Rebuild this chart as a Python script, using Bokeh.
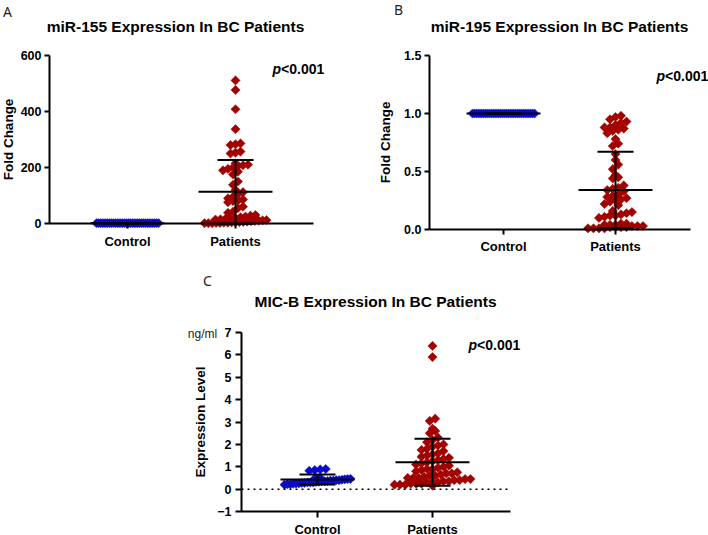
import numpy as np
from bokeh.plotting import figure
from bokeh.layouts import column, row, Spacer
from bokeh.models import FixedTicker, NumeralTickFormatter, Label, Range1d
from bokeh.embed import file_html
from bokeh.resources import INLINE

# ---------------- data ----------------
categories = ["Control", "Patients"]
titles = ["miR-155 Expression In BC Patients",
          "miR-195 Expression In BC Patients",
          "MIC-B Expression In BC Patients"]
panel_letters = ["A", "B", "C"]
y_titles = ["Fold Change", "Fold Change", "Expression Level"]
p_value_text = "<0.001"
unit_text = "ng/ml"

mir155_ticks = [0, 200, 400, 600]
mir195_ticks = [0.0, 0.5, 1.0, 1.5]
micb_ticks = [-1, 0, 1, 2, 3, 4, 5, 6, 7]

mir155_control = [1.0, 1.0, 1.0, 1.0, 1.0, 1.0, 1.0, 1.0, 1.0, 1.0,
                  1.0, 1.0, 1.0, 1.0, 1.0, 1.0, 1.0, 1.0, 1.0, 1.0,
                  1.0, 1.0, 1.0, 1.0, 1.0, 1.0, 1.0, 1.0, 1.0, 1.0]
mir155_patients = [511, 477, 408, 337, 286, 283, 280, 257, 253, 250,
                   215, 210, 208, 205, 200, 195, 190, 185, 175, 150,
                   138, 120, 112, 105, 95, 90, 86, 82, 80, 76,
                   60, 55, 42, 38, 30, 28, 25, 22, 20, 18,
                   17, 15, 14, 12, 11, 10, 9, 8, 7, 6,
                   5, 5, 4, 3, 3, 2, 2, 1, 1, 1]
mir155_mean = [1.0, 113.0]
mir155_sd = [0.0, 114.0]

mir195_control = [1.0, 1.0, 1.0, 1.0, 1.0, 1.0, 1.0, 1.0, 1.0, 1.0,
                  1.0, 1.0, 1.0, 1.0, 1.0, 1.0, 1.0, 1.0, 1.0, 1.0,
                  1.0, 1.0, 1.0, 1.0, 1.0, 1.0, 1.0, 1.0, 1.0, 1.0]
mir195_patients = [0.98, 0.97, 0.95, 0.93, 0.92, 0.90, 0.88, 0.88, 0.87, 0.86,
                   0.85, 0.83, 0.78, 0.74, 0.72, 0.65, 0.60, 0.56, 0.52, 0.47,
                   0.45, 0.44, 0.38, 0.36, 0.35, 0.34, 0.33, 0.30, 0.29, 0.28,
                   0.27, 0.26, 0.25, 0.24, 0.22, 0.21, 0.16, 0.15, 0.14, 0.13,
                   0.12, 0.12, 0.11, 0.10, 0.05, 0.05, 0.04, 0.04, 0.04, 0.03,
                   0.03, 0.03, 0.02, 0.02, 0.02, 0.02, 0.01, 0.01, 0.01, 0.01]
mir195_mean = [1.0, 0.34]
mir195_sd = [0.0, 0.33]

micb_control = [0.90, 0.88, 0.85, 0.82, 0.50, 0.48, 0.46, 0.45, 0.44, 0.42,
                0.40, 0.40, 0.38, 0.38, 0.36, 0.35, 0.35, 0.33, 0.32, 0.30,
                0.30, 0.30, 0.28, 0.28, 0.26, 0.25, 0.24, 0.22, 0.22, 0.20]
micb_patients = [6.4, 5.9, 3.15, 3.05, 2.7, 2.6, 2.5, 2.3, 2.2, 2.1,
                 2.0, 1.95, 1.9, 1.8, 1.75, 1.7, 1.6, 1.55, 1.5, 1.45,
                 1.4, 1.35, 1.3, 1.25, 1.2, 1.15, 1.1, 1.05, 1.0, 0.95,
                 0.9, 0.9, 0.85, 0.8, 0.75, 0.7, 0.7, 0.65, 0.6, 0.6,
                 0.55, 0.5, 0.5, 0.5, 0.45, 0.45, 0.4, 0.4, 0.35, 0.35,
                 0.3, 0.3, 0.3, 0.25, 0.25, 0.25, 0.2, 0.2, 0.2, 0.15]
micb_mean = [0.43, 1.2]
micb_sd = [0.22, 1.05]

# ---------------- style ----------------
RED = "#A30000"
BLUE = "#0A0ACC"
FONT = "Liberation Sans"
LETTER_FONT = "Noto Sans"

# panel geometry in window pixels (frame covers the whole figure)
GEO = {
    "A": dict(fig_w=354, fig_h=260, fl=0, fr=354, ft=0, fb=260, yax=49,
              ctrl=127, xppu=108.0, zero=223.0, yppu=0.28, axis_end=313),
    "B": dict(fig_w=354, fig_h=260, fl=354, fr=708, ft=0, fb=260, yax=429,
              ctrl=503, xppu=112.0, zero=229.0, yppu=116.0, axis_end=690),
    "C": dict(fig_w=400, fig_h=275, fl=150, fr=550, ft=260, fb=535, yax=241,
              ctrl=317, xppu=115.0, zero=488.625, yppu=22.375, axis_end=510),
}


def X(g, px):
    return 1.0 + (px - g["ctrl"]) / g["xppu"]


def Y(g, py):
    return (g["zero"] - py) / g["yppu"]


def swarm(values, center, g, bin_px=7.0, step_px=5.0, half_px=31.0):
    vals = np.asarray(values, dtype=float)
    py = vals * g["yppu"]
    bins = np.floor(py / bin_px + 0.5).astype(int)
    xs = np.empty(len(vals))
    for b in np.unique(bins):
        idx = np.where(bins == b)[0]
        idx = idx[np.argsort(vals[idx])]
        n = len(idx)
        s = step_px if n < 2 else min(step_px, 2 * half_px / (n - 1))
        offs = (np.arange(n) - (n - 1) / 2.0) * s
        xs[idx] = center + offs / g["xppu"]
    return xs


def make_panel(key, title, ytitle, ticks, ybounds, xaxis_at, control, patients, means, sds,
               label_standoff_y, xlab_standoff, tick_out, ctrl_half, pat_half, step,
               msize, letter_pos, title_pos, p_pos, fmt=None):
    g = GEO[key]
    xr = Range1d(X(g, g["fl"]), X(g, g["fr"]))
    yr = Range1d(Y(g, g["fb"]), Y(g, g["ft"]))
    p = figure(width=g["fig_w"], height=g["fig_h"], x_range=xr, y_range=yr,
               output_backend="svg", toolbar_location=None, title=None,
               min_border_left=0, min_border_right=0,
               min_border_top=0, min_border_bottom=0)
    p.xgrid.visible = False
    p.ygrid.visible = False
    p.outline_line_color = None
    p.background_fill_color = "white"
    p.border_fill_color = "white"

    # scatter points
    xc = swarm(control, 1.0, g, step_px=step, half_px=ctrl_half)
    xp = swarm(patients, 2.0, g, step_px=step, half_px=pat_half)
    p.scatter(xc, control, marker="square", angle=np.pi / 4, size=msize,
              fill_color=BLUE, line_color=BLUE, line_width=0.5)
    p.scatter(xp, patients, marker="square", angle=np.pi / 4, size=msize,
              fill_color=RED, line_color=RED, line_width=0.5)

    # mean +/- SD bars
    mw = 37.0 / g["xppu"]
    cw = 18.0 / g["xppu"]
    x0, y0, x1, y1 = [], [], [], []
    for i, (m, s) in enumerate(zip(means, sds)):
        c = i + 1.0
        x0 += [c - mw, c - cw, c - cw, c]
        x1 += [c + mw, c + cw, c + cw, c]
        y0 += [m, m + s, m - s, m - s]
        y1 += [m, m + s, m - s, m + s]
    p.segment(x0, y0, x1, y1, line_color="black", line_width=2)

    # axes (drawn inside the frame at fixed positions)
    xa = p.xaxis[0]
    ya = p.yaxis[0]
    xa.fixed_location = xaxis_at
    ya.fixed_location = X(g, g["yax"])

    xa.ticker = FixedTicker(ticks=[1, 2])
    xa.major_label_overrides = {1: categories[0], 2: categories[1]}
    xa.minor_tick_line_color = None
    xa.major_tick_in = 0
    xa.major_tick_out = tick_out
    xa.axis_line_width = 2
    xa.major_tick_line_width = 2
    xa.major_label_standoff = xlab_standoff
    xa.major_label_text_font = FONT
    xa.major_label_text_font_style = "bold"
    xa.major_label_text_font_size = "13px"
    xa.major_label_text_color = "black"
    xa.bounds = (X(g, g["yax"]), X(g, g["axis_end"]))

    ya.ticker = FixedTicker(ticks=ticks)
    ya.minor_tick_line_color = None
    ya.major_tick_in = 0
    ya.major_tick_out = tick_out
    ya.axis_line_width = 2
    ya.major_tick_line_width = 2
    ya.major_label_standoff = 3 if key != "C" else 4
    ya.major_label_text_font = FONT
    ya.major_label_text_font_style = "bold"
    ya.major_label_text_font_size = "12.5px"
    ya.major_label_text_color = "black"
    ya.axis_label = ytitle
    ya.axis_label_text_font = FONT
    ya.axis_label_text_font_style = "bold"
    ya.axis_label_text_font_size = "13.5px"
    ya.axis_label_text_color = "black"
    ya.axis_label_standoff = label_standoff_y
    ya.bounds = ybounds
    if fmt is not None:
        ya.formatter = fmt

    # texts
    p.add_layout(Label(x=X(g, letter_pos[0]), y=Y(g, letter_pos[1]), text=panel_letters["ABC".index(key)],
                       text_font=LETTER_FONT, text_font_size="14px", text_align="center",
                       text_baseline="middle", text_color="#222222"))
    p.add_layout(Label(x=X(g, title_pos[0]), y=Y(g, title_pos[1]), text=title,
                       text_font=FONT, text_font_style="bold", text_font_size="15.5px",
                       text_align="center", text_baseline="middle", text_color="black"))
    p.add_layout(Label(x=X(g, p_pos[0]), y=Y(g, p_pos[1]), text="p",
                       text_font=FONT, text_font_style="bold italic", text_font_size="14px",
                       text_align="left", text_baseline="middle", text_color="black"))
    p.add_layout(Label(x=X(g, p_pos[0] + 8.6), y=Y(g, p_pos[1]), text=p_value_text,
                       text_font=FONT, text_font_style="bold", text_font_size="14px",
                       text_align="left", text_baseline="middle", text_color="black"))
    return p, g


pA, gA = make_panel("A", titles[0], y_titles[0], mir155_ticks, (0, 600), 0,
                    mir155_control, mir155_patients, mir155_mean, mir155_sd,
                    label_standoff_y=2, xlab_standoff=5, tick_out=5,
                    ctrl_half=31, pat_half=31, step=5.0, msize=6.5,
                    letter_pos=(7, 11), title_pos=(175, 26), p_pos=(272, 68))

pB, gB = make_panel("B", titles[1], y_titles[1], mir195_ticks, (0, 1.5), 0,
                    mir195_control, mir195_patients, mir195_mean, mir195_sd,
                    label_standoff_y=8, xlab_standoff=4, tick_out=5,
                    ctrl_half=31, pat_half=31, step=5.5, msize=6.5,
                    letter_pos=(398, 9), title_pos=(559, 26), p_pos=(656, 75),
                    fmt=NumeralTickFormatter(format="0.0"))

pC, gC = make_panel("C", titles[2], y_titles[2], micb_ticks, (-1, 7), -1,
                    micb_control, micb_patients, micb_mean, micb_sd,
                    label_standoff_y=6, xlab_standoff=4, tick_out=6,
                    ctrl_half=33, pat_half=38, step=5.5, msize=6.5,
                    letter_pos=(207, 280), title_pos=(375, 301), p_pos=(468, 344))

# dotted zero line and unit label in panel C
pC.segment([X(gC, gC["yax"])], [0], [X(gC, 508)], [0], line_color="black",
           line_width=1.5, line_dash="2 4")
pC.add_layout(Label(x=X(gC, 202), y=Y(gC, 333), text=unit_text, text_font=FONT,
                    text_font_size="12px", text_align="center", text_baseline="middle",
                    text_color="#222222"))

layout = column(row(pA, pB), row(Spacer(width=150, height=275), pC))

open("out.html", "w").write(file_html(layout, INLINE))
